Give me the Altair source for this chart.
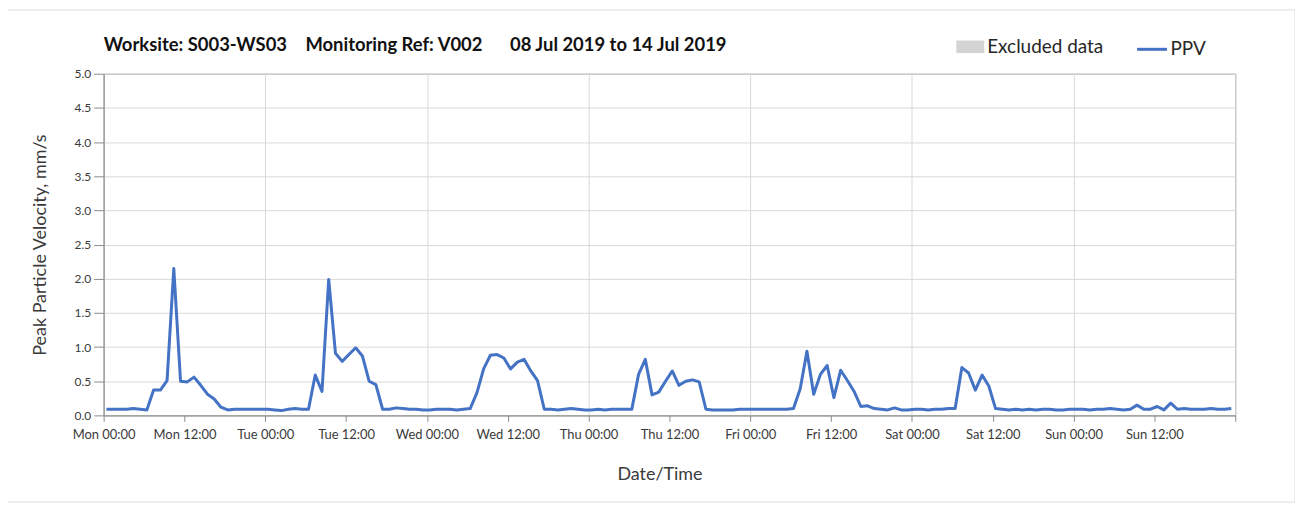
import altair as alt
import pandas as pd

TITLE = ("Worksite: S003-WS03\u2002\u2002Monitoring Ref: V002"
         "\u2002\u2002\u200208 Jul 2019 to 14 Jul 2019")
X_TITLE = "Date/Time"
Y_TITLE = "Peak Particle Velocity, mm/s"
SERIES_LINE = "PPV"
SERIES_EXCL = "Excluded data"
FIRST_SAMPLE = "2019-07-08 00:25"

PPV = [
    # Mon
    0.09, 0.09, 0.09, 0.09, 0.10, 0.09, 0.08, 0.37, 0.37, 0.51, 2.15, 0.50,
    0.49, 0.56, 0.44, 0.31, 0.24, 0.12, 0.08, 0.09, 0.09, 0.09, 0.09, 0.09,
    # Tue
    0.09, 0.08, 0.07, 0.09, 0.10, 0.09, 0.09, 0.59, 0.35, 1.99, 0.91, 0.79,
    0.89, 0.99, 0.87, 0.50, 0.45, 0.09, 0.09, 0.11, 0.10, 0.09, 0.09, 0.08,
    # Wed
    0.08, 0.09, 0.09, 0.09, 0.08, 0.09, 0.10, 0.33, 0.68, 0.88, 0.89, 0.84,
    0.68, 0.78, 0.82, 0.65, 0.51, 0.09, 0.09, 0.08, 0.09, 0.10, 0.09, 0.08,
    # Thu
    0.08, 0.09, 0.08, 0.09, 0.09, 0.09, 0.09, 0.60, 0.82, 0.30, 0.34, 0.50,
    0.65, 0.44, 0.50, 0.52, 0.49, 0.09, 0.08, 0.08, 0.08, 0.08, 0.09, 0.09,
    # Fri
    0.09, 0.09, 0.09, 0.09, 0.09, 0.09, 0.10, 0.39, 0.94, 0.31, 0.60, 0.73,
    0.26, 0.66, 0.51, 0.35, 0.13, 0.14, 0.10, 0.09, 0.08, 0.11, 0.08, 0.08,
    # Sat
    0.09, 0.09, 0.08, 0.09, 0.09, 0.10, 0.10, 0.70, 0.62, 0.37, 0.59, 0.43,
    0.10, 0.09, 0.08, 0.09, 0.08, 0.09, 0.08, 0.09, 0.09, 0.08, 0.08, 0.09,
    # Sun
    0.09, 0.09, 0.08, 0.09, 0.09, 0.10, 0.09, 0.08, 0.09, 0.15, 0.09, 0.09,
    0.13, 0.08, 0.18, 0.09, 0.10, 0.09, 0.09, 0.09, 0.10, 0.09, 0.09, 0.10,
]

EXCLUDED_START = []
EXCLUDED_END = []

Y_TICKS = [0.0, 0.5, 1.0, 1.5, 2.0, 2.5, 3.0, 3.5, 4.0, 4.5, 5.0]
X_TICK_DAYS = [8, 9, 10, 11, 12, 13, 14, 15]
X_TICK_HOURS = [0, 12]

FONT = "Lato"
BLUE = "#4472C4"
GREY_FILL = "#d4d4d4"
GRID = "#d9d9d9"
AXIS = "#8c8c8c"
TEXT = "#3a3a3a"

times = pd.date_range(FIRST_SAMPLE, periods=len(PPV), freq="h").strftime("%Y-%m-%dT%H:%M:%S")
df = pd.DataFrame({"time": times, "ppv": PPV, "series": SERIES_LINE})
excl = pd.DataFrame({"start": EXCLUDED_START, "end": EXCLUDED_END,
                     "label": [SERIES_EXCL] * len(EXCLUDED_START)})

tick_values = []
for d in X_TICK_DAYS:
    for h in X_TICK_HOURS:
        if d == X_TICK_DAYS[-1] and h > 0:
            continue
        tick_values.append(alt.DateTime(year=2019, month=7, date=d, hours=h))

x_scale = alt.Scale(domain=[alt.DateTime(year=2019, month=7, date=8, hours=0),
                            alt.DateTime(year=2019, month=7, date=15, hours=0)])

x_axis = alt.Axis(
    values=tick_values,
    labelExpr="datum.value >= datetime(2019, 6, 15) ? '' : timeFormat(datum.value, '%a %H:%M')",
    labelOverlap=False,
    labelFlush=False,
    grid=True,
    gridOpacity={"condition": {"test": "hours(datum.value) == 0", "value": 1}, "value": 0},
    tickSize=6,
    labelPadding=7,
    labelFontSize=13,
    title=X_TITLE,
    titleFontSize=18,
    titleFontWeight="normal",
    titlePadding=24,
    titleX=558,
)

y_axis = alt.Axis(
    values=Y_TICKS,
    format=".1f",
    grid=True,
    tickSize=10,
    labelPadding=3,
    labelFontSize=12,
    title=Y_TITLE,
    titleFontSize=18,
    titleFontWeight="normal",
    titlePadding=25,
)

line = alt.Chart(df).mark_line(strokeWidth=3, strokeJoin="round").encode(
    x=alt.X("time:T", scale=x_scale, axis=x_axis),
    y=alt.Y("ppv:Q", scale=alt.Scale(domain=[0, 5], nice=False), axis=y_axis),
    stroke=alt.Stroke(
        "series:N",
        scale=alt.Scale(domain=[SERIES_LINE], range=[BLUE]),
        legend=alt.Legend(
            title=None, orient="none", legendX=1036, legendY=-41,
            symbolType="stroke", symbolSize=900, symbolStrokeWidth=3,
            labelFontSize=19, labelOffset=2, labelColor="#262626",
            padding=0,
        ),
    ),
)

excluded = alt.Chart(excl).mark_rect(opacity=1).encode(
    x=alt.X("start:T", scale=x_scale),
    x2="end:T",
    fill=alt.Fill(
        "label:N",
        scale=alt.Scale(domain=[SERIES_EXCL], range=[GREY_FILL]),
        legend=alt.Legend(
            title=None, orient="none", legendX=856, legendY=-41,
            symbolType="M-1,-0.45L1,-0.45L1,0.45L-1,0.45Z", symbolSize=784,
            symbolStrokeWidth=0,
            labelFontSize=19, labelOffset=3, labelColor="#262626",
            padding=0,
        ),
    ),
)

frame = alt.Chart(pd.DataFrame({"k": [0]})).mark_rect(
    filled=False, stroke="#dcdcdc", strokeWidth=1
).encode(
    x=alt.value(-97), x2=alt.value(1196), y=alt.value(-64), y2=alt.value(430)
)

chart = alt.layer(frame, excluded, line).properties(
    width=1136,
    height=343,
    title=alt.TitleParams(
        TITLE, anchor="start", frame="group", fontSize=18.5, fontWeight="bold",
        font=FONT, color="#111111", offset=-45,
    ),
    autosize=alt.AutoSizeParams(type="none"),
    padding={"left": 96, "top": 65, "right": 60, "bottom": 92},
).configure(
    font=FONT,
).configure_view(
    stroke=AXIS, strokeWidth=1,
).configure_axis(
    domainColor=AXIS, tickColor=AXIS, gridColor=GRID, gridWidth=1,
    labelColor=TEXT, titleColor=TEXT, labelFont=FONT, titleFont=FONT,
).configure_legend(
    labelFont=FONT,
)

chart.save("out.html", embed_options={"renderer": "svg", "actions": False})
